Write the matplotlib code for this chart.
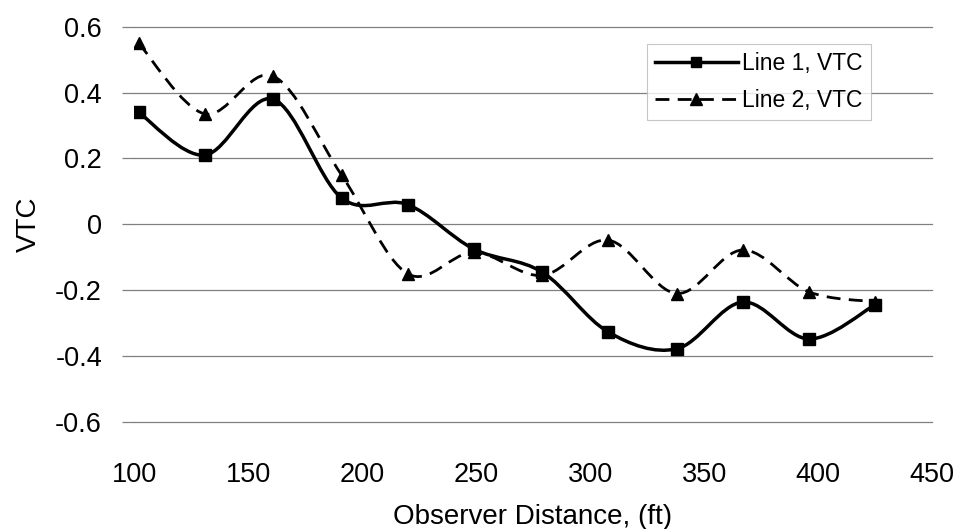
import numpy as np
import matplotlib
matplotlib.use("Agg")
import matplotlib.pyplot as plt
from matplotlib.path import Path
from matplotlib.patches import PathPatch
from matplotlib.lines import Line2D

plt.rcParams['font.family'] = ['Liberation Sans', 'DejaVu Sans']

# data
distance = [102, 131, 161, 191, 220, 249, 279, 308, 338, 367, 396, 425]
line1_vtc = [0.34, 0.21, 0.38, 0.08, 0.06, -0.075, -0.145, -0.327, -0.378, -0.236, -0.348, -0.244]
line2_vtc = [0.55, 0.335, 0.45, 0.15, -0.15, -0.085, -0.155, -0.048, -0.21, -0.078, -0.205, -0.235]
labels = ['Line 1, VTC', 'Line 2, VTC']
xticks = [100, 150, 200, 250, 300, 350, 400, 450]
yticks = [-0.6, -0.4, -0.2, 0, 0.2, 0.4, 0.6]
ytick_labels = ['-0.6', '-0.4', '-0.2', '0', '0.2', '0.4', '0.6']


def smooth_path(x, y):
    # spreadsheet-style smoothed line: cubic bezier through the points
    p = np.column_stack([x, y]).astype(float)
    ext = np.vstack([p[0], p, p[-1]])
    verts = [p[0]]
    codes = [Path.MOVETO]
    for i in range(len(p) - 1):
        c1 = ext[i + 1] + (ext[i + 2] - ext[i]) / 6
        c2 = ext[i + 2] - (ext[i + 3] - ext[i + 1]) / 6
        verts += [c1, c2, ext[i + 2]]
        codes += [Path.CURVE4] * 3
    return Path(verts, codes)


fig = plt.figure(figsize=(9.6, 5.29), dpi=100)
ax = fig.add_axes([0.1396, 0.2023, 0.8313, 0.7473])

ax.set_xlim(100, 450)
ax.set_ylim(-0.6, 0.6)

for t in yticks:
    ax.axhline(t, color='#808080', lw=0.9, zorder=0, clip_on=False)

ax.add_patch(PathPatch(smooth_path(distance, line1_vtc), fill=False,
                       edgecolor='black', lw=2.5, zorder=3))
ax.plot(distance, line1_vtc, ls='none', marker='s', ms=8.5, color='black', zorder=4)

ax.add_patch(PathPatch(smooth_path(distance, line2_vtc), fill=False,
                       edgecolor='black', lw=2.0, linestyle=(0, (5, 3)), zorder=3))
ax.plot(distance, line2_vtc, ls='none', marker='^', ms=9, color='black', zorder=4)

ax.set_xticks(xticks)
ax.set_xticklabels([str(v) for v in xticks], fontsize=19.5)
ax.set_yticks(yticks)
ax.set_yticklabels(ytick_labels, fontsize=19.5)
ax.tick_params(axis='x', length=0, pad=29)
ax.tick_params(axis='y', length=9, width=0.9, color='#808080', pad=14)

for s in ax.spines.values():
    s.set_visible(False)

ax.set_xlabel('Observer Distance, (ft)', fontsize=20)
ax.xaxis.set_label_coords(0.5, -0.207)
ax.set_ylabel('VTC', fontsize=20)
ax.yaxis.set_label_coords(-0.115, 0.5)

handles = [
    Line2D([], [], color='black', lw=2.5, marker='s', ms=7),
    Line2D([], [], color='black', lw=2.0, ls=(0, (5, 3)), marker='^', ms=8),
]
leg = fig.legend(handles, labels, loc='upper left',
                 bbox_to_anchor=(647 / 960, 1 - 44 / 529),
                 fontsize=16.5, handlelength=3.6, handletextpad=0.2,
                 labelspacing=0.6, borderpad=0.35, borderaxespad=0,
                 fancybox=False, frameon=True)
leg.get_frame().set_edgecolor('#b8b8b8')
leg.get_frame().set_linewidth(0.8)

fig.savefig('out.png', dpi=100)
